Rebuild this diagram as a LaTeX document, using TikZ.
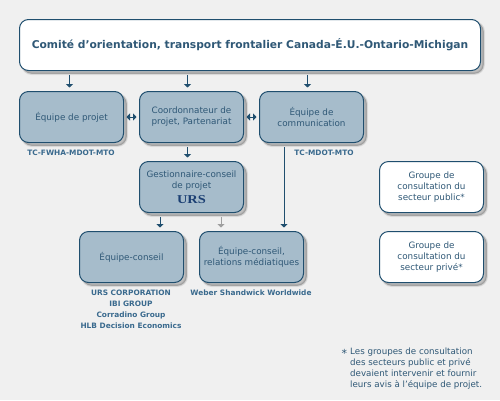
\documentclass[tikz,border=0pt]{standalone}
\usepackage{fontspec}
\setmainfont{DejaVu Sans}
\newfontfamily\logofont{Liberation Serif}
\usetikzlibrary{arrows.meta}
\definecolor{pagebg}{HTML}{F0F0F0}
\definecolor{boxfill}{HTML}{A6BCCB}
\definecolor{boxline}{HTML}{1F4E6E}
\definecolor{txt}{HTML}{2F5876}
\definecolor{subtxt}{HTML}{3A6A8E}
\definecolor{logoc}{HTML}{1B3F73}
\tikzset{
 shad/.style={preaction={fill=black,draw=black,line width=#1,opacity=.07,transform canvas={shift={(3pt,-3pt)}}}},
 basebox/.style={rounded corners=9pt,draw=boxline,line width=1pt,minimum width=104pt,minimum height=51pt,inner sep=0pt,align=center,text=txt,font=\fontsize{8.8}{11}\selectfont,
   shad=3pt,shad=1.8pt,shad=0.6pt},
 bluebox/.style={basebox,fill=boxfill},
 whitebox/.style={basebox,fill=white},
 arr/.style={draw=boxline,line width=1pt,-{Triangle[width=7pt,length=3.5pt]},shorten <=4pt,shorten >=3.5pt},
 darr/.style={draw=boxline,line width=1pt,{Triangle[width=7pt,length=3.5pt]}-{Triangle[width=7pt,length=3.5pt]},shorten <=2.5pt,shorten >=2.5pt},
 grayarr/.style={arr,draw=gray!75!white},
 sub/.style={text=subtxt,font=\bfseries\fontsize{7.4}{11}\selectfont,align=center,inner sep=0pt},
 note/.style={text=txt,font=\fontsize{8.7}{11}\selectfont,align=left,inner sep=0pt,anchor=north west},
}
\begin{document}
\begin{tikzpicture}[x=1pt,y=-1pt]
\useasboundingbox (0,0) rectangle (500,400);
\fill[pagebg] (0,0) rectangle (500,400);
\node[whitebox,minimum width=461pt,font=\bfseries\fontsize{10.7}{14}\selectfont] (top) at (250,45) {Comité d’orientation, transport frontalier Canada-É.U.-Ontario-Michigan};
\node[bluebox] (eq) at (71.5,117) {Équipe de projet};
\node[bluebox] (co) at (191.5,117) {Coordonnateur de\\projet, Partenariat};
\node[bluebox] (com) at (311.5,117) {Équipe de\\communication};
\node[bluebox] (ge) at (191.5,187) {};
\node[text=txt,font=\fontsize{8.8}{11}\selectfont,align=center,inner sep=0pt] (getxt) at (191.5,181) {Gestionnaire-conseil\\de projet};
\node[text=logoc,inner sep=0pt] (urs) at (191.5,200) {\logofont\bfseries\fontsize{12}{12}\selectfont\scalebox{1.2}[1]{URS}};
\node[bluebox] (ce) at (131.5,257) {Équipe-conseil};
\node[bluebox] (rm) at (251.5,257) {Équipe-conseil,\\relations médiatiques};
\node[whitebox] (pub) at (431.5,187) {Groupe de\\consultation du\\secteur public*};
\node[whitebox] (pri) at (431.5,257) {Groupe de\\consultation du\\secteur privé*};
\node[sub] (s1) at (71,153) {TC-FWHA-MDOT-MTO};
\node[sub] (s2) at (324,153) {TC-MDOT-MTO};
\node[sub] (s3) at (131,309.5) {URS CORPORATION\\IBI GROUP\\Corradino Group\\HLB Decision Economics};
\node[sub] (s4) at (251,293) {Weber Shandwick Worldwide};
\node[note,font=\fontsize{11}{11}\selectfont] (star) at (341.5,349) {*};
\node[note] (n) at (350,348) {Les groupes de consultation\\des secteurs public et privé\\devaient intervenir et fournir\\leurs avis à l’équipe de projet.};
\coordinate (a1) at ([xshift=-2pt]eq.north);
\coordinate (a2) at ([xshift=-4pt]co.north);
\coordinate (a3) at ([xshift=-4pt]com.north);
\coordinate (a4) at ([xshift=-4pt]ge.north);
\coordinate (a5) at ([xshift=28.5pt]ce.north);
\coordinate (a6) at ([xshift=-30.5pt]rm.north);
\coordinate (a7) at ([xshift=32.5pt]rm.north);
\draw[arr] (a1 |- top.south) -- (a1);
\draw[arr] (a2 |- top.south) -- (a2);
\draw[arr] (a3 |- top.south) -- (a3);
\draw[arr] (a2 |- co.south) -- (a4);
\draw[arr] (a5 |- ge.south) -- (a5);
\draw[grayarr] (a6 |- ge.south) -- (a6);
\draw[arr] (a7 |- com.south) -- (a7);
\draw[darr] (eq.east) -- (co.west);
\draw[darr] (co.east) -- (com.west);
\end{tikzpicture}
\end{document}
